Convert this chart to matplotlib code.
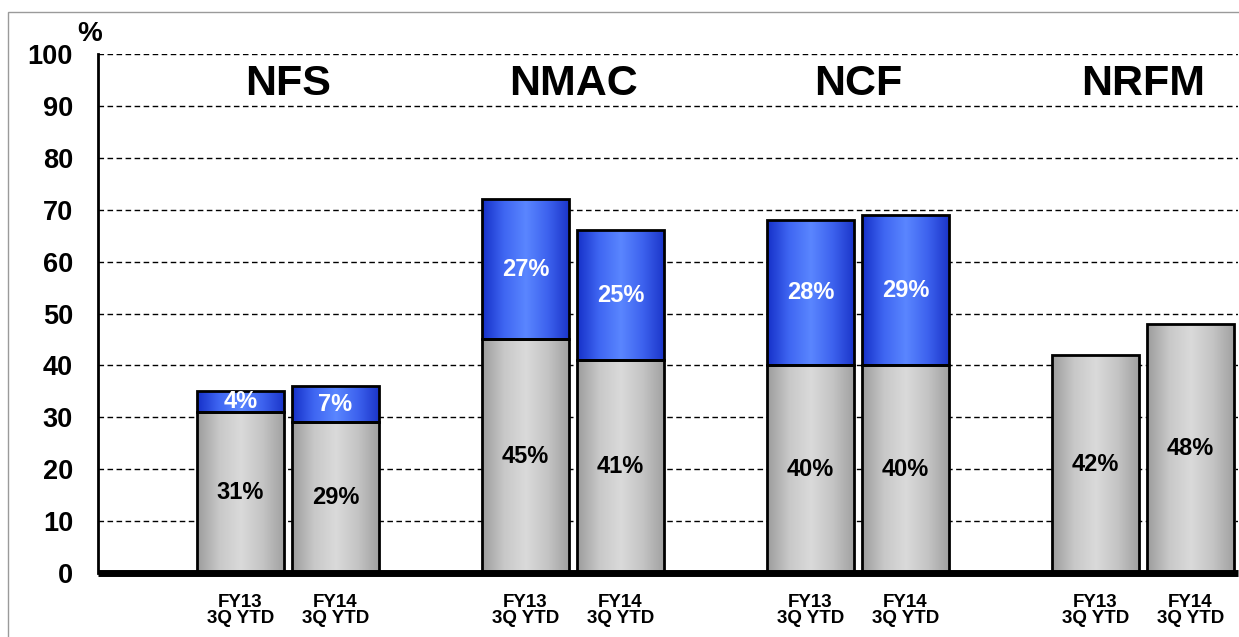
import matplotlib
matplotlib.use("Agg")
import matplotlib.pyplot as plt
import numpy as np
from matplotlib.patches import Rectangle
from matplotlib.colors import LinearSegmentedColormap

plt.rcParams['font.family'] = ['Liberation Sans', 'DejaVu Sans']
plt.rcParams['font.weight'] = 'bold'

groups = ["NFS", "NMAC", "NCF", "NRFM"]
periods = ["FY13\n3Q YTD", "FY14\n3Q YTD"]
gray_vals = [[31, 29], [45, 41], [40, 40], [42, 48]]
blue_vals = [[4, 7], [27, 25], [28, 29], [0, 0]]
y_ticks = [0, 10, 20, 30, 40, 50, 60, 70, 80, 90, 100]

W, H = 1239, 637
fig = plt.figure(figsize=(W / 100, H / 100), dpi=100)
ax = fig.add_axes([98 / W, (H - 573) / H, (1238 - 98) / W, (573 - 54) / H])

# outer frame
fig.patches.append(Rectangle((8 / W, -0.01), 1.02, (H - 12) / H + 0.01, transform=fig.transFigure,
                             fill=False, edgecolor='#9a9a9a', linewidth=1.0, zorder=0))

gray_cmap = LinearSegmentedColormap.from_list("g", ["#9c9c9c", "#c8c8c8", "#dadada", "#c4c4c4", "#a0a0a0"])
blue_cmap = LinearSegmentedColormap.from_list("b", ["#1530c8", "#3f66f2", "#5a86ff", "#3d62ee", "#1a34c8"])
grad = np.linspace(0, 1, 256).reshape(1, -1)

bar_w = 0.926
xs, xlabels = [], []
for gi, g in enumerate(groups):
    center = 2 + 3 * gi
    for pi in range(2):
        x = center - 0.5 + pi
        xs.append(x)
        xlabels.append(periods[pi])
        gv = gray_vals[gi][pi]
        bv = blue_vals[gi][pi]
        segs = [(0, gv, gray_cmap, '#000000', 'black')]
        if bv > 0:
            segs.append((gv, bv, blue_cmap, 'white', 'black'))
        for bottom, h, cmap, tcol, ec in segs:
            bars = ax.bar(x, h, bottom=bottom, width=bar_w, color='none', edgecolor=ec,
                          linewidth=2, zorder=4)
            im = ax.imshow(grad, cmap=cmap, aspect='auto', interpolation='bicubic',
                           extent=[x - bar_w / 2, x + bar_w / 2, bottom, bottom + h], zorder=3)
            im.set_clip_path(bars.patches[0])
            ax.text(x, bottom + h / 2, f"{h}%", ha='center', va='center', fontsize=17,
                    fontweight='bold', color=tcol, zorder=5)
    ax.text(center, 94.3, g, ha='center', va='center', fontsize=31, fontweight='bold', zorder=5)

ax.set_xlim(0, 12)
ax.set_ylim(0, 100)
ax.set_yticks(y_ticks)
ax.set_yticklabels([str(t) for t in y_ticks], fontsize=19.5, fontweight='bold')
ax.set_xticks(xs)
ax.set_xticklabels(xlabels, fontsize=13.5, fontweight='bold', linespacing=0.9)
ax.tick_params(axis='y', length=0, pad=18)
ax.tick_params(axis='x', length=0, pad=15)

for t in y_ticks[1:]:
    ax.axhline(t, color='black', linestyle=(0, (4, 2.5)), linewidth=1.0, zorder=1)

ax.spines['top'].set_visible(False)
ax.spines['right'].set_visible(False)
ax.spines['left'].set_linewidth(2)
ax.spines['bottom'].set_linewidth(5)
ax.spines['bottom'].set_zorder(6)
ax.spines['bottom'].set_capstyle('butt')

fig.text(90 / W, (H - 34) / H, "%", ha='center', va='center', fontsize=20, fontweight='bold')

fig.savefig("out.png", dpi=100)
